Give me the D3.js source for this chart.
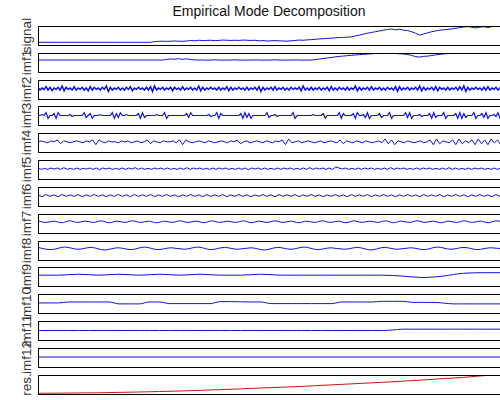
<!DOCTYPE html>
<html>
<head>
<meta charset="utf-8">
<script src="https://cdn.jsdelivr.net/npm/d3@7"></script>
<style>
  body { margin: 0; background: #fff; }
  text { font-family: "Liberation Sans", Arial, sans-serif; }
</style>
</head>
<body>
<script>
const title = 'Empirical Mode Decomposition';
const labels = ['signal', 'imf1', 'imf2', 'imf3', 'imf4', 'imf5', 'imf6', 'imf7',
  'imf8', 'imf9', 'imf10', 'imf11', 'imf12', 'res.'];

const signal = [14, 14, 14, 14, 14, 14, 14, 14, 14, 14, 14, 14, 14, 14, 14, 14, 14, 14, 14, 14,
  14, 14, 14, 14, 14, 14, 14, 14, 14,
  18, 19, 20, 19, 20, 21, 20, 19, 21, 24, 22, 25,
  23, 24, 25, 23, 24, 26, 25, 24, 25, 24, 26, 25,
  24, 25, 22, 23, 21, 22, 23, 22, 21, 20, 22, 24, 26, 25, 27, 28,
  30, 32, 33, 35, 36, 38, 39, 40, 41, 43, 48, 52, 57, 62, 66, 70, 74, 78,
  82, 84, 80, 83, 78, 76, 70, 62, 52, 58, 64, 70, 74, 78,
  80, 82, 85, 88, 91, 95, 97, 93, 90, 94, 96, 92, 97, 99, 100, 100];

const imf1 = [2.6, 2.6, 2.6, 2.6, 2.6, 2.6, 2.6, 2.6, 2.6, 2.6, 2.6, 2.6, 2.6, 2.6, 2.6, 2.6,
  2.6, 2.6, 2.6, 2.6, 2.6, 2.6, 2.6, 2.6, 2.6, 2.6, 2.6, 2.6, 2.6, 2.6, 2.6, 2.6,
  3.2, 3.8, 3.4, 4, 3.3, 3.9, 3.1, 2.7, 2.6,
  2.6, 2.5, 2.6, 2.8, 2.6, 2.5, 2.6, 2.6, 2.8, 2.6, 2.5, 2.6, 2.6, 2.7,
  2.6, 2.5, 2.6, 2.6, 2.8, 2.6, 2.5, 2.6, 2.6, 2.7, 2.6, 2.5, 2.6, 2.6,
  3, 3.6, 4.2, 4.8, 5.3, 5.9, 6.4, 6.8, 7.2, 7.6, 7.9, 8.3, 8.6, 8.8, 9.2, 9.5,
  9.8, 9.9, 9.6, 9.9, 9.5, 9.2, 8.9, 8.4, 7.5, 6.2, 5.7, 6.5, 6.7, 7.4, 8,
  8.6, 9.1, 9.4, 9.8, 9.6, 10, 9.7, 10.1, 9.8, 10.2, 9.9, 10.1, 9.8, 11, 12, 12, 12];

const imf2 = [2, -2, 1, -1, 3, -2, 2, -3, 1, -1, 2, -2, 4, -3, 2, -1, 1, -2, 3, -2,
  1, -1, 2, -2, 1, -3, 3, -2, 2, -1, 1, -2, 2, -1, 4, -4, 2, -2, 1, -1,
  2, -2, 1, -2, 2, -1, 3, -3, 1, -1, 2, -1, 1, -2, 2, -2, 3, -4, 4, -2,
  1, -1, 2, -2, 1, -1, 2, -3, 2, -1, 1, -2, 3, -2, 1, -1, 2, -2, 1, -2,
  4, -3, 2, -2, 1, -1, 2, -1, 1, -2, 2, -2, 1, -1, 3, -3, 2, -2, 1, -1,
  2, -1, 1, -2, 2, -2, 1, -1, 2, -2, 3, -4, 2, -2, 1, -1, 2, -2, 3, -2,
  1, -1, 2, -2, 1, -2, 2, -1, 1, -1, 2, -3, 4, -2, 1, -2, 2, -2, 1, -1,
  2, -2, 1, -1, 2, -3, 3, -2, 1, -2, 2, -1, 1, -2, 2, -2, 1, -1, 4, -3,
  2, -2, 1, -1, 2, -2, 3, -2, 1, -1, 2, -2, 1, -2, 2, -1, 1, -2, 3, -4,
  3, -2, 1, -1, 2, -2, 1, -1, 2, -2, 4, -3, 2, -2, 1, -1, 2, -2, 3, -3,
  2, -1, 1, -2, 2, -2, 1, -1, 2, -2, 3, -2, 4, -4, 2, -2, 1, -1, 2, -1,
  1, -2, 2, -2, 3, -2, 1, -1, 2, -2, 1, -1, 2];

const imf3 = [0, 0, 1, 0, 3, -3, 0, 0, 2, -3, 3, 0, 0, 0, 0, 0, 1, -1, 0, 0,
  0, 0, 0, 3, -2, 0, 2, -3, 0, 0, 0, 1, 0, 0, 0, 0, 0, 3, -3, 2,
  -2, 3, 0, 0, 1, 0, 0, 0, 0, 0, 2, -3, 3, -2, 0, 0, 0, 0, 0, 1,
  0, 0, 0, 3, -3, 0, 0, 0, 0, 0, 0, 0, 0, 0, 2, -2, 3, 0, 0, 0,
  0, 0, 0, 0, 0, 1, -1, 0, 0, 3, -3, 2, 0, 0, 0, 0, 0, 0, 0, 0,
  0, 2, -3, 3, -2, 2, -3, 0, 0, 0, 0, 0, 0, 0, 3, -2, 0, 0, 1, -1,
  0, 0, 0, 0, 0, 0, 0, 3, -3, 0, 0, 0, 0, 0, 0, 0, 0, 1, 0, 0,
  0, 0, 2, -3, 0, 0, 0, 0, 0, 0, 3, -3, 2, 0, 0, 0, 0, 2, -3, 3,
  0, 0, 1, -2, 3, -3, 0, 0, 0, 0, 2, -2, 0, 0, 0, 3, -3, 0, 0, 0,
  0, 0, 0, 3, -2, 3, -3, 0, 0, 0, 1, -1, 0, 0, 0, 2, -3, 3, -2, 0,
  0, 0, 3, -3, 0, 0, 0, 0, 2, -3, 3, -3, 2, -2, 0, 0, 0, 3, -3, 0,
  0, 2, -2, 3, -3, 0, 0, 1, -1, 3, -3, 2, 0];

const imf4 = [0, 1, 0, -1, 1, 0, 2, -2, 1, 0, -1, 0, 1, 0, -1, 1, 0, 2, -3, 2,
  0, -1, 1, 0, 0, -1, 1, 0, 1, -1, 0, 1, -1, 0, 2, -2, 1, 0, -1, 1,
  0, 0, 1, -1, 2, -3, 2, 0, -1, 0, 1, 0, -1, 1, 0, -1, 0, 1, 0, -1,
  1, 0, 2, -2, 0, 1, -1, 0, 1, 0, -1, 1, 0, -1, 1, 0, 2, -3, 3, -1,
  0, 1, -1, 0, 1, 0, -1, 0, 1, -1, 0, 1, 0, -1, 2, -2, 1, 0, -1, 1,
  0, -1, 1, 0, -1, 0, 1, -1, 3, -2, 2, -3, 1, 0, -1, 1, 0, -1, 0, 1,
  -1, 0, 2, -3, 3, -2, 1, 0, -1, 2, -3, 3, -2, 1, -1, 2, -3, 3, -2, 2,
  -3, 3, -1, 2, -3, 3];

const imf5 = [1, -1, 0.5, -1, 1, -0.5, 1, -1, 1.5, -1, 0.5, -1, 1, -1, 0.5, -0.5, 1, -1, 1, -1.5,
  1, -0.5, 1, -1, 0.5, -1, 1, -1, 1, -0.5, 1.5, -1, 1, -1, 0.5, -1, 1, -0.5, 1, -1,
  1, -1, 0.5, -1, 1, -1, 1.5, -1, 1, -0.5, 1, -1, 0.5, -1, 1, -1, 1, -0.5, 1, -1,
  0.5, -1, 1, -1, 1, -1.5, 1, -0.5, 1, -1, 1, -1, 0.5, -1, 1, -1, 1, -0.5, 1, -1,
  0.5, -1, 1, -1, 1.5, -1, 1, -0.5, 1, -1, 1, -1, 2.5, 1, -0.5, 1, -1, 0.5, -1, 1,
  -1, 1, -0.5, 1, -1, 0.5, -1, 1, -1, 1.5, -1, 1, -0.5, 1, -1, 0.5, -1, 1, -1, 1,
  -0.5, 1, -1, 0.5, -1, 1, -1, 1.5, -1, 1, -1, 0.5, -1, 1, -1, 1, -0.5, 1, -1, 0.5,
  -1, 1, -1, 1, -0.5];

const imf6 = [1, -1.5, 1.5, -1, 1, -1.5, 1.5, -1, 1, -1, 1.5, -1.5, 1, -1, 1.5, -1, 1, -1.5, 1, -1,
  1.5, -1, 1, -1.5, 1.5, -1, 1, -1, 1.5, -1.5, 1, -1, 1.5, -1, 1, -1.5, 1, -1, 1.5, -1,
  1, -1.5, 1.5, -1, 1, -1, 1.5, -1.5, 1, -1, 1.5, -1, 1, -1.5, 1, -1, 1.5, -1, 1, -1.5,
  1.5, -1, 1, -1, 1.5, -1.5, 1, -1, 1.5, -1, 1, -1.5, 1, -1, 1.5, -1, 1, -1.5, 1.5, -1,
  1, -1, 1.5, -1.5, 1, -1, 1.5, -1, 1, -1.5, 1, -1, 1.5, -1, 1, -1.5, 1.5, -1, 1, -1,
  1.5, -1.5, 1, -1, 1.5, -1, 1, -1.5, 1, -1, 1.5, -1, 1, -1.5, 1.5, -1, 1];

const imf7 = [1.5, -1, 1, -1.5, 1.5, -1, 1, -1, 1.5, -1.5, 1, -1, 1.5, -1, 1, -1.5, 1, -1, 1.5, -1,
  1, -1.5, 1.5, -1, 1, -1, 1.5, -1.5, 1, -1, 1.5, -1, 1, -1.5, 1, -1, 1.5, -1, 1, -1.5,
  1.5, -1, 1, -1, 1.5, -1.5, 1, -1, 1.5, -1, 1, -1.5, 1, -1, 1.5, -1, 1, -1.5, 1.5, -1];

const imf8 = [1.5, -1.5, 2, -1, 1.5, -2, 1, -1.5, 2, -1.5, 1, -1, 2, -1.5, 1.5, -1, 1, -2,
  1.5, -1, 2, -1.5, 1, -1, 1.5, -2, 1.5, -1, 1, -1.5, 2, -1, 1.5, -1.5, 1, -1];

const imf9 = [0, 0, 1, 0, 1, 0, 1, 0, 1, 0, 0, 1, 0, 0, 0, 0, 0, 0, -1, -2.5, -1, 2, 2.6, 2.6];

const imf10 = [0.6, 0.6, 0.6, 1.6, 1.6, 1.6, 1.6, 1.6, -0.4, -0.4, -0.4, 1.6, 1.6,
  -0.1, -0.1, -0.1, -0.1, -0.1, 2, 2, 1.8, 1.6, 1.6, -0.1, -0.1, -0.1, -0.1, -0.1, -0.1, -0.1,
  1.6, 1.6, 1.6, 1.6, 2.3, 2.3, 2.3, 1.2, 1.2, 1.2, 0.5, -0.4, -0.4, -0.4, -0.4, -0.4, -0.4];

const imf11 = [0, 0, 0, 0, 0, 0, 0, 0, 0, 0, 0, 0, 0, 0, 0, 0, 0, 0, 0, 0, 0, 0, 0, 0,
  0, 0, 0, 0, 0, 0, 0, 0, 0, 0, 0, 0.5, 1.4, 1.4, 1.4, 1.4, 1.4, 1.4, 1.4, 1.4, 1.4, 1.4, 1.4];

const imf12 = [0.5, 0.5, 0.5, 0.5, 0.5, 0.5, 0.5, 0.5, 0.5, 0.5, 0.5, 0.5];

const res = [3.8, 4.5, 5.5, 6.4, 8.5, 10.5, 13, 15.8, 19.2, 23, 27, 31.5, 35.7, 40,
  45.5, 50.8, 56.2, 61.5, 67.5, 74, 80.8, 87.5, 96.5, 104];

const series = [signal, imf1, imf2, imf3, imf4, imf5, imf6, imf7, imf8, imf9, imf10, imf11, imf12, res];
const yLimits = [[0, 100], [-10, 10], [-15.2, 12.8], [-10, 10], [-10.7, 9.3], [-15.2, 12.8],
  [-14.2, 11.8], [-17.7, 12.3], [-15.7, 10.3], [-11.4, 8.6], [-10, 10], [-10, 10], [-10, 10], [0, 100]];

const width = 500, height = 400;
const left = 38, right = 504;

const svg = d3.select('body').append('svg')
  .attr('width', width)
  .attr('height', height);

svg.append('text')
  .attr('x', 269)
  .attr('y', 16)
  .attr('text-anchor', 'middle')
  .attr('font-size', 14)
  .attr('fill', '#111')
  .text(title);

const rows = d3.scaleBand()
  .domain(labels)
  .range([26, 394])
  .paddingInner(0.28);

const h = Math.round(rows.bandwidth());
const x = d3.scaleLinear().domain([0, 1]).range([left, right]);

labels.forEach((name, i) => {
  const top = Math.round(rows(name));
  const values = series[i];
  const y = d3.scaleLinear().domain(yLimits[i]).range([h, 0]);
  const smooth = i >= 7 && i <= 12;

  const g = svg.append('g').attr('transform', 'translate(0,' + top + ')');

  g.append('clipPath').attr('id', 'clip' + i)
    .append('rect')
    .attr('x', left).attr('y', 0)
    .attr('width', right - left).attr('height', h);

  const line = d3.line()
    .x((d, j) => x(j / (values.length - 1)))
    .y(d => y(d))
    .curve(smooth ? d3.curveMonotoneX : d3.curveLinear);

  g.append('path')
    .datum(values)
    .attr('clip-path', 'url(#clip' + i + ')')
    .attr('fill', 'none')
    .attr('stroke', name === 'res.' ? '#c41818' : '#1010d8')
    .attr('stroke-width', i === 2 ? 1.5 : (i === 3 ? 1.2 : 1))
    .attr('d', line);

  // box around each subplot
  g.append('rect')
    .attr('x', left + 0.5).attr('y', 0.5)
    .attr('width', right - left).attr('height', h)
    .attr('fill', 'none')
    .attr('stroke', '#000');

  g.append('text')
    .attr('transform', 'translate(31,' + (h / 2) + ') rotate(-90)')
    .attr('text-anchor', 'middle')
    .attr('font-size', 13.5)
    .attr('fill', '#333')
    .text(name);
});
</script>
</body>
</html>
